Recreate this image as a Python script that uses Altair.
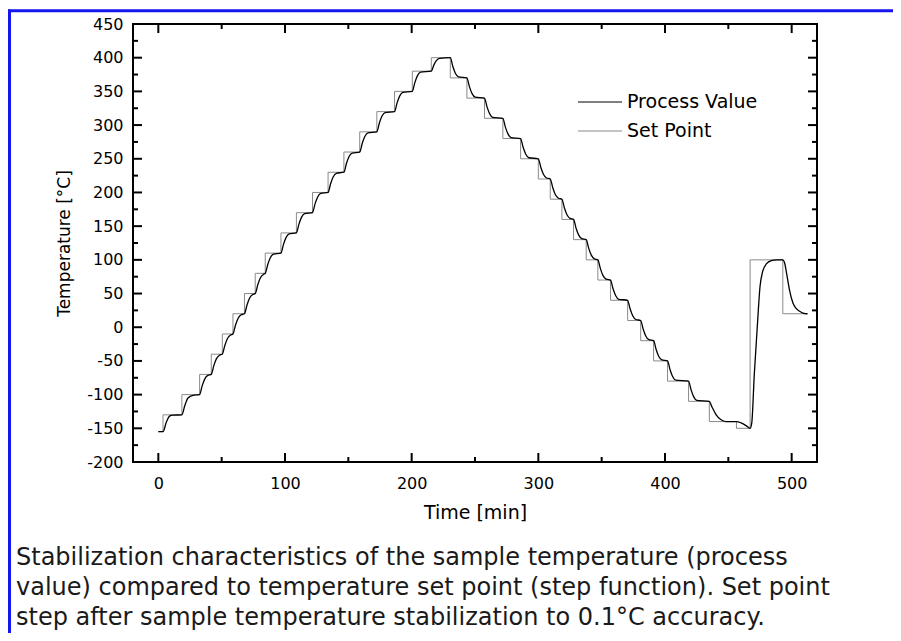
import altair as alt
import pandas as pd

# ---------------- data ----------------
# Set point (step function): time where each level starts, and the level
sp_time = [0, 3.7, 18.6, 32.6, 41.8, 50.5, 58.9, 68.0, 76.5, 84.4,
           96.8, 109.0, 121.7, 134.0, 146.5, 159.0, 172.5, 186.5, 200.5, 215.5,
           230.5, 243.6, 257.5, 272.0, 286.0, 300.0, 309.4, 318.6, 327.8, 337.8,
           347.0, 357.0, 370.5, 380.8, 391.0, 402.0, 418.6, 435.0, 456.4, 467.2,
           493.0, 512.5]
sp_temp = [-155, -130, -100, -70, -40, -10, 20, 50, 80, 110,
           140, 170, 200, 230, 260, 290, 320, 350, 380, 400,
           370, 340, 310, 280, 250, 220, 190, 160, 130, 100,
           70, 40, 10, -20, -50, -80, -110, -140, -150, 100,
           20, 20]

# Process value (sample temperature)
pv_time = [0, 3.7,
           6.3, 8.9, 11.5, 18.6,
           20.8, 23.4, 27.3, 32.6,
           34.6, 36.6, 39.1, 41.8,
           43.8, 45.8, 48.3, 50.5,
           52.5, 54.5, 57.0, 58.9,
           60.9, 62.9, 65.4, 68.0,
           70.0, 72.0, 74.5, 76.5,
           78.5, 80.5, 83.0, 84.4,
           86.4, 88.4, 90.9, 96.8,
           98.8, 100.8, 103.3, 109.0,
           111.0, 113.0, 115.5, 121.7,
           123.7, 125.7, 128.2, 134.0,
           136.0, 138.0, 140.5, 146.5,
           148.5, 150.5, 153.0, 159.0,
           161.0, 163.0, 165.5, 172.5,
           174.5, 176.5, 179.0, 186.5,
           188.5, 190.5, 193.0, 200.5,
           202.5, 204.5, 207.0, 215.5,
           217.5, 219.5, 222.0, 230.5,
           232.5, 234.5, 237.0, 243.6,
           245.6, 247.6, 250.1, 257.5,
           259.5, 261.5, 264.0, 272.0,
           274.0, 276.0, 278.5, 286.0,
           288.0, 290.0, 292.5, 300.0,
           302.0, 304.0, 306.5, 309.4,
           311.4, 313.4, 315.9, 318.6,
           320.6, 322.6, 325.1, 327.8,
           329.8, 331.8, 334.3, 337.8,
           339.8, 341.8, 344.3, 347.0,
           349.0, 351.0, 353.5, 357.0,
           359.0, 361.0, 363.5, 370.5,
           372.5, 374.5, 377.0, 380.8,
           382.8, 384.8, 387.3, 391.0,
           393.0, 395.0, 397.5, 402.0,
           404.0, 406.0, 408.5, 418.6,
           420.6, 422.6, 425.1, 435.0,
           437.0, 440.4, 444.0, 448.0, 456.4,
           460.1, 464.0, 467.2,
           468.5, 470.5, 473.0, 475.0, 477.0, 480.0, 484.0, 488.0, 493.0,
           494.5, 496.0, 498.3, 501.0, 503.5, 506.0, 509.0, 512.5]
pv_temp = [-155, -155,
           -141, -132, -130.5, -130,
           -117, -105, -101, -100,
           -87, -77, -71.5, -70,
           -57, -47, -41.5, -40,
           -27, -17, -11.5, -10,
           3, 13, 18.5, 20,
           33, 43, 48.5, 50,
           63, 73, 78.5, 80,
           93, 103, 108.5, 110,
           123, 133, 138.5, 140,
           153, 163, 168.5, 170,
           183, 193, 198.5, 200,
           213, 223, 228.5, 230,
           243, 253, 258.5, 260,
           273, 283, 288.5, 290,
           303, 313, 318.5, 320,
           333, 343, 348.5, 350,
           363, 373, 378.5, 380,
           389, 395.5, 399, 400,
           387, 377, 371.5, 370,
           357, 347, 341.5, 340,
           327, 317, 311.5, 310,
           297, 287, 281.5, 280,
           267, 257, 251.5, 250,
           237, 227, 221.5, 220,
           207, 197, 191.5, 190,
           177, 167, 161.5, 160,
           147, 137, 131.5, 130,
           117, 107, 101.5, 100,
           87, 77, 71.5, 70,
           57, 47, 41.5, 40,
           27, 17, 11.5, 10,
           -3, -13, -18.5, -20,
           -33, -43, -48.5, -50,
           -63, -73, -78.5, -80,
           -93, -103, -108.5, -110,
           -118, -130, -137, -140, -140,
           -142, -146, -150,
           -142, -70, 5, 60, 82, 94, 99, 100, 100,
           95, 80, 55, 36, 28, 24, 21, 20]

series_names = ["Process Value", "Set Point"]
series_colors = ["#000000", "#8a8a8a"]

# axis ticks
x_major = [0, 100, 200, 300, 400, 500]
x_minor = [50, 150, 250, 350, 450]
y_major = [-200, -150, -100, -50, 0, 50, 100, 150, 200, 250, 300, 350, 400, 450]
y_minor = [-175, -125, -75, -25, 25, 75, 125, 175, 225, 275, 325, 375, 425]

caption_lines = [
    "Stabilization characteristics of the sample temperature (process",
    "value) compared to temperature set point (step function). Set point",
    "step after sample temperature stabilization to 0.1°C accuracy.",
]

# ---------------- chart ----------------
W, H = 684, 438
MAJ, MIN = 9, 5

xs = alt.Scale(domain=[-20, 520], nice=False, zero=False)
ys = alt.Scale(domain=[-200, 450], nice=False, zero=False)

pv_df = pd.DataFrame({"t": pv_time, "v": pv_temp, "series": series_names[0]})
sp_df = pd.DataFrame({"t": sp_time, "v": sp_temp, "series": series_names[1]})

legend = alt.Legend(
    title=None, orient="none", legendX=455, legendY=66, padding=0,
    symbolType="M-2,0H2", symbolSize=484, symbolStrokeWidth=1.2,
    labelFont="DejaVu Sans", labelFontSize=19, labelColor="black",
    labelOffset=15, rowPadding=7, labelLimit=300,
)
color = alt.Color("series:N",
                  scale=alt.Scale(domain=series_names, range=series_colors),
                  legend=legend)

x_axis = alt.Axis(values=x_major, ticks=False, domain=False, grid=False,
                  labelFont="DejaVu Sans", labelFontSize=16, labelColor="black",
                  labelPadding=13, labelExpr="'' + datum.value",
                  title="Time [min]", titleFont="DejaVu Sans", titleFontSize=19,
                  titleFontWeight="normal", titleColor="black", titlePadding=12)
y_axis = alt.Axis(values=y_major, ticks=False, domain=False, grid=False,
                  labelFont="DejaVu Sans", labelFontSize=16, labelColor="black",
                  labelPadding=10, labelExpr="'' + datum.value",
                  title="Temperature [°C]", titleFont="DejaVu Sans", titleFontSize=17,
                  titleFontWeight="normal", titleColor="black", titlePadding=13)

X = lambda f: alt.X(f, scale=xs, axis=x_axis)
Y = lambda f: alt.Y(f, scale=ys, axis=y_axis)

sp_line = alt.Chart(sp_df).mark_line(interpolate="step-after", strokeWidth=1).encode(
    x=X("t:Q"), y=Y("v:Q"), color=color,
)
pv_line = alt.Chart(pv_df).mark_line(interpolate="monotone", strokeWidth=1.3).encode(
    x=X("t:Q"), y=Y("v:Q"), color=color,
)

def yticks(vals, length):
    df = pd.DataFrame({"v": vals})
    base = alt.Chart(df).mark_rule(color="black", strokeWidth=2)
    left = base.encode(y=Y("v:Q"), x=alt.value(0), x2=alt.value(length))
    right = base.encode(y=Y("v:Q"), x=alt.value(W), x2=alt.value(W - length))
    return [left, right]

def xticks(vals, length):
    df = pd.DataFrame({"v": vals})
    base = alt.Chart(df).mark_rule(color="black", strokeWidth=2)
    bottom = base.encode(x=X("v:Q"), y=alt.value(H), y2=alt.value(H - length))
    top = base.encode(x=X("v:Q"), y=alt.value(0), y2=alt.value(length))
    return [bottom, top]

one = pd.DataFrame({"k": [0]})
caption = alt.Chart(one).mark_text(
    text=caption_lines, align="left", baseline="alphabetic",
    font="DejaVu Sans", fontSize=24, lineHeight=30, color="#1a1a1a",
).encode(x=alt.value(-117), y=alt.value(541))

border_top = alt.Chart(one).mark_rule(color="#1515f0", strokeWidth=3).encode(
    x=alt.value(-125), x2=alt.value(W + 100), y=alt.value(-13.3), y2=alt.value(-13.3))
border_left = alt.Chart(one).mark_rule(color="#1515f0", strokeWidth=3).encode(
    x=alt.value(-123.5), x2=alt.value(-123.5), y=alt.value(-14.5), y2=alt.value(H + 200))

layers = [sp_line, pv_line] + yticks(y_major, MAJ) + yticks(y_minor, MIN) \
    + xticks(x_major, MAJ) + xticks(x_minor, MIN) + [caption, border_top, border_left]

chart = alt.layer(*layers).properties(
    width=W, height=H,
    autosize=alt.AutoSizeParams(type="none"),
    padding={"left": 125, "top": 16, "right": 76, "bottom": 171},
    background="white",
).configure_view(stroke="black", strokeWidth=2)

chart.save("out.html", embed_options={"renderer": "svg", "actions": False})
